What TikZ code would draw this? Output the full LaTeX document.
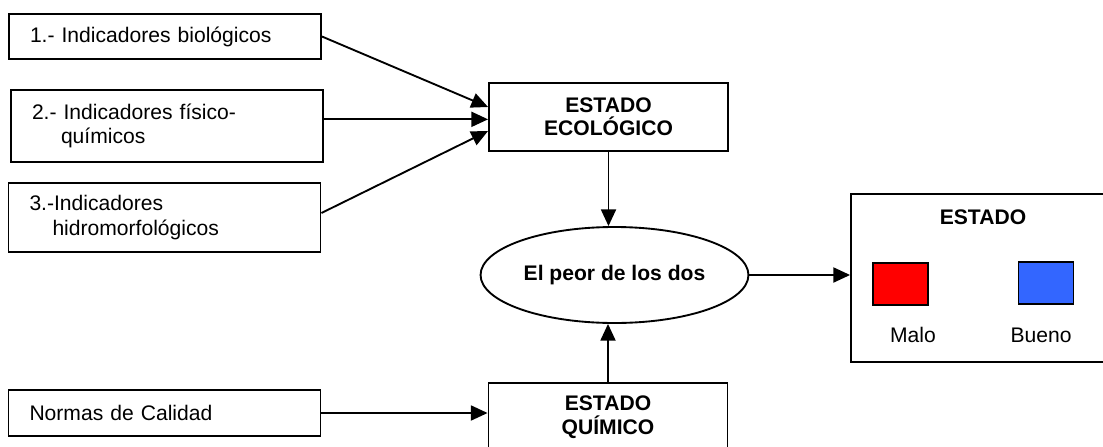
\documentclass[tikz,border=0pt]{standalone}
\usepackage{fontspec}
\setmainfont{Liberation Sans}
\usepackage{tikz}
\usetikzlibrary{arrows.meta}
\usetikzlibrary{shapes.geometric}
\definecolor{rojo}{RGB}{255,0,0}
\definecolor{azul}{RGB}{51,102,255}

\begin{document}
\begin{tikzpicture}[
    line width=1.6pt,
    font=\fontsize{18}{21}\selectfont,
    indbox/.style={draw, text width=8.1cm, inner xsep=0.63cm, align=left},
    estbox/.style={draw, minimum width=7.17cm, minimum height=2.04cm,
      align=center, font=\fontsize{18}{20}\selectfont\bfseries},
    color box/.style={draw, minimum width=1.65cm, minimum height=1.26cm},
    flecha/.style={-{Triangle[length=5mm, width=4.5mm]}}]

    \clip (0, 0) rectangle (33.09, 13.38);

    % indicadores
    \node [indbox, minimum height=1.35cm] (ind1) at (4.95, 12.285)
      {1.- Indicadores biológicos};
    \node [indbox, minimum height=2.16cm] (ind2) at (5.01, 9.6)
      {2.- Indicadores físico-\\\hspace*{0.87cm}químicos};
    \node [indbox, minimum height=2.07cm] (ind3) at (4.935, 6.855)
      {3.-Indicadores\\\hspace*{0.69cm}hidromorfológicos};
    \node [indbox, minimum height=1.38cm] (normas) at (4.935, 0.99)
      {Normas de Calidad};

    % estados
    \node [estbox] (eco) at (18.255, 9.87) {ESTADO\\ECOLÓGICO};
    \node [estbox] (quim) at (18.24, 0.87) {ESTADO\\QUÍMICO};
    \node [draw, ellipse, minimum width=6.93cm, minimum height=2.88cm,
      font=\fontsize{18}{20}\selectfont\bfseries] (peor) at (18.435, 5.13)
      {El peor de los dos};

    % resultado
    \node [draw, minimum width=8.07cm, minimum height=5.04cm] (estado)
      at (29.565, 5.04) {};
    \node [font=\fontsize{18}{20}\selectfont\bfseries] (titulo)
      at (29.49, 6.87) {ESTADO};
    \node [color box, fill=rojo] (malo) at (27.015, 4.86) {};
    \node [color box, fill=azul] (bueno) at (31.38, 4.89) {};
    \node (tmalo) at (27.39, 3.33) {Malo};
    \node (tbueno) at (31.23, 3.33) {Bueno};

    % flechas
    \draw [flecha] (ind1.east) -- ([yshift=0.3cm]eco.west);
    \draw [flecha] ([yshift=0.2cm]ind2.east) -- ([yshift=0.2cm]ind2.east -| eco.west);
    \draw [flecha] ([yshift=0.135cm]ind3.east) -- ([yshift=-0.42cm]eco.west);
    \draw [flecha] (eco.south) -- (eco.south |- peor.north);
    \draw [flecha] (quim.north) -- (quim.north |- peor.south);
    \draw [flecha] (peor.east) -- (peor.east -| estado.west);
    \draw [flecha] (normas.east) -- (normas.east -| quim.west);

  \end{tikzpicture}
\end{document}
